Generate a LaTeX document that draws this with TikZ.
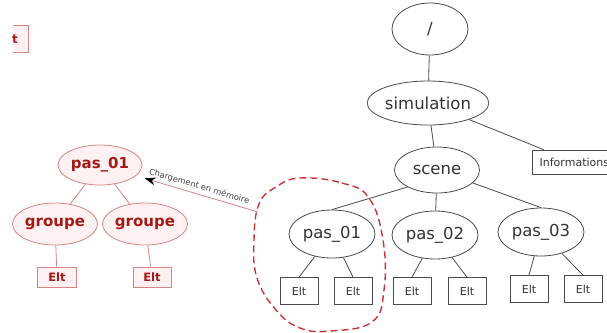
\documentclass[tikz,border=0pt]{standalone}
\usepackage{fontspec}
\setmainfont{DejaVu Sans}
\usetikzlibrary{shapes.geometric,arrows.meta}

\definecolor{redline}{HTML}{D88484}
\definecolor{redfill}{HTML}{FFF1F1}
\definecolor{redtext}{HTML}{A51818}
\definecolor{reddash}{HTML}{C63636}
\definecolor{greyline}{HTML}{4A4A4A}

\begin{document}
\begin{tikzpicture}
  [x=1pt,y=-1pt,
    every node/.style={text=black!80,font=\fontsize{16.5}{18}\selectfont},
    tnode/.style={ellipse,draw=greyline,line width=.8pt,inner sep=0pt,
      minimum width=86pt,minimum height=48pt},
    elt/.style={rectangle,draw=greyline,line width=.7pt,inner sep=0pt,
      minimum width=38pt,minimum height=27pt,font=\fontsize{11}{12}\selectfont},
    rnode/.style={ellipse,draw=redline,fill=redfill,line width=.8pt,inner sep=0pt,
      minimum width=84pt,minimum height=42pt,text=redtext,
      font=\bfseries\fontsize{15}{17}\selectfont},
    relt/.style={rectangle,draw=redline,fill=redfill,line width=.7pt,inner sep=0pt,
      minimum width=39pt,minimum height=20pt,text=redtext,
      font=\bfseries\fontsize{11.5}{12}\selectfont},
    conn/.style={draw=greyline,line width=.8pt},
    rconn/.style={draw=redline,line width=.8pt},
  ]
  \clip (0,0) rectangle (607,332);

  % main tree
  \node[tnode,minimum width=76pt,minimum height=52pt] (root) at (430,29) {/};
  \node[tnode,minimum width=93pt,minimum height=44pt] (simu) at (428,103) {simulation};
  \node[tnode,minimum width=85pt,minimum height=46pt] (scene) at (437,170) {scene};
  \node[elt,anchor=west,minimum width=84pt,minimum height=24pt] (info) at (532,162) {Informations};
  \node[tnode] (pasA) at (332,234) {pas\_01};
  \node[tnode] (pasB) at (435,235) {pas\_02};
  \node[tnode] (pasC) at (541,232) {pas\_03};
  \node[elt] (eltA1) at (299,291) {Elt};
  \node[elt] (eltA2) at (353,291) {Elt};
  \node[elt] (eltB1) at (412,291) {Elt};
  \node[elt] (eltB2) at (467,291) {Elt};
  \node[elt] (eltC1) at (529,289) {Elt};
  \node[elt] (eltC2) at (583,289) {Elt};

  \draw[conn] (root) -- (simu);
  \draw[conn] (simu) -- (scene);
  \draw[conn] (simu) -- (info);
  \draw[conn] (scene.210) -- (pasA.north);
  \draw[conn] (scene) -- (pasB);
  \draw[conn] (scene) -- (pasC.north);
  \foreach \p/\e in {pasA/eltA1,pasA/eltA2,pasB/eltB1,pasB/eltB2,pasC/eltC1,pasC/eltC2}
    \draw[conn] (\p) -- (\e.north);

  % loaded part
  \draw[draw=reddash,line width=1.4pt,dash pattern=on 7pt off 4pt]
    plot[smooth cycle,tension=.7] coordinates {(300,178) (342,183) (369,198) (383,240)
      (384,290) (372,322) (330,331) (300,328) (276,310) (257,278) (254,240) (259,204) (276,187)};

  \node[rnode,minimum height=40pt] (rpas) at (100,165) {pas\_01};
  \node[rnode] (rgrpA) at (55,224) {groupe};
  \node[rnode] (rgrpB) at (145,224) {groupe};
  \node[relt] (reltA) at (57,277) {Elt};
  \node[relt,minimum width=38pt] (reltB) at (152,277) {Elt};

  \draw[rconn] (rpas) -- (rgrpA);
  \draw[rconn] (rpas) -- (rgrpB);
  \draw[rconn] (rgrpA) -- (reltA);
  \draw[rconn] (rgrpB) -- (reltB);

  \coordinate (load) at (258,212);
  \draw[rconn,-{Stealth[length=11pt,width=8pt,black]},shorten >=9pt] (load) -- (rpas)
    node[midway,sloped,above,inner sep=3pt,font=\fontsize{8.3}{9}\selectfont,text=black!75]
    {Chargement en mémoire};

  % cut box, top left
  \fill[redfill] (13,25) rectangle (28,52);
  \draw[redline,line width=.7pt] (13,25) -- (28,25) -- (28,52) -- (13,52);
  \node[anchor=west,inner sep=0pt,text=redtext,font=\bfseries\fontsize{12}{12}\selectfont]
    (rcut) at (12,39) {t};
\end{tikzpicture}
\end{document}
